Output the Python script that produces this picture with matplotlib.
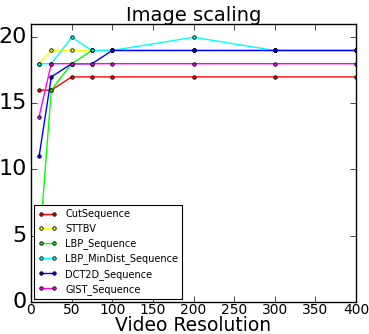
import matplotlib
matplotlib.use("Agg")
import matplotlib.pyplot as plt

plt.style.use("classic")

# video resolutions tested
resolution = [10, 25, 50, 75, 100, 200, 300, 400]

cut_seq = [16, 16, 17, 17, 17, 17, 17, 17]
sttbv = [18, 19, 19, 19, 19, 19, 19, 19]
lbp_seq = [4, 16, 18, 19, 19, 19, 19, 19]
lbp_mindist = [18, 18, 20, 19, 19, 20, 19, 19]
dct2d_seq = [11, 17, 18, 18, 19, 19, 19, 19]
gist_seq = [14, 18, 18, 18, 18, 18, 18, 18]

series = [
    ("CutSequence", cut_seq, "red"),
    ("STTBV", sttbv, "yellow"),
    ("LBP_Sequence", lbp_seq, "lime"),
    ("LBP_MinDist_Sequence", lbp_mindist, "cyan"),
    ("DCT2D_Sequence", dct2d_seq, "blue"),
    ("GIST_Sequence", gist_seq, "magenta"),
]

fig = plt.figure(figsize=(3.69, 3.34), dpi=100, facecolor="white")
ax = fig.add_axes([0.084, 0.097, 0.881, 0.831])

for name, vals, col in series:
    ax.plot(resolution, vals, "-o", color=col, lw=1.0, ms=2.5,
            mec="black", mew=0.6, label=name)

ax.set_xlim(0, 400)
ax.set_ylim(0, 21)
ax.set_yticks([0, 5, 10, 15, 20])
ax.tick_params(axis="y", labelsize=16, pad=3)
ax.tick_params(axis="x", labelsize=10, pad=1)
ax.set_title("Image scaling", fontsize=14, pad=2)
ax.set_xlabel("Video Resolution", fontsize=13.5, labelpad=-1)

leg = ax.legend(loc="lower left", fontsize=7, numpoints=2,
                labelspacing=0.45, handlelength=2.0, borderaxespad=0.3)
leg.get_frame().set_linewidth(0.8)

fig.savefig("out.png", dpi=100, facecolor="white")
